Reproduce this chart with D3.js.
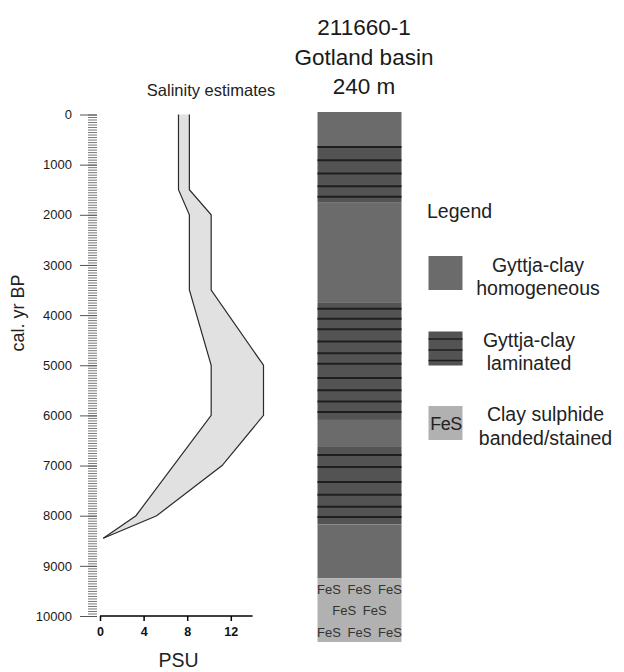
<!DOCTYPE html>
<html>
<head>
	<title></title>
	<style>
		body { margin: 0; background: #fff; }
		text { font-family: "Liberation Sans", Arial, sans-serif; }
	</style>
</head>
<body>

<svg id="chart" width="624" height="672"></svg>

<script src="https://d3js.org/d3.v7.min.js"></script>
<script>
	// Salinity band, min and max edge (age in cal. yr BP, value in PSU)
	const minAge = [0, 1500, 2000, 3500, 5000, 6000, 8000, 8450]
	const minPSU = [7.2, 7.2, 8.2, 8.2, 10.2, 10.2, 3.3, 0.3]
	const maxAge = [0, 1500, 2000, 3500, 5000, 6000, 7000, 8000, 8450]
	const maxPSU = [8.2, 8.2, 10.2, 10.2, 15, 15, 11.2, 5.2, 0.3]

	const xTicks = [0, 4, 8, 12]

	// Core units, top/bottom in % of core length
	const unitType = ['hom', 'lam', 'hom', 'lam', 'hom', 'lam', 'hom', 'fes']
	const unitTop = [0, 6.5, 17.0, 35.9, 58.1, 63.2, 77.8, 88.0]
	const unitBottom = [6.5, 17.0, 35.9, 58.1, 63.2, 77.8, 88.0, 100]

	// laminae positions in % of core length
	const laminae = [6.6, 9.1, 11.6, 14.0, 16.0,
		37.1, 39.0, 41.0, 43.3, 45.5, 47.5, 50.2, 52.5, 54.6, 56.6,
		64.7, 67.0, 69.8, 72.2, 74.5, 76.4]

	const fesRows = [['FeS', 'FeS', 'FeS'], ['FeS', 'FeS'], ['FeS', 'FeS', 'FeS']]

	const colors = { hom: '#6b6b6b', lam: '#535353', fes: '#b1b1b1' }

	const svg = d3.select('#chart')

	// ---------------- salinity panel ----------------
	const y = d3.scaleLinear().domain([0, 10000]).range([114.5, 616])
	const x = d3.scaleLinear().domain([0, 14]).range([100, 252.6])

	// minor ticks every 50 yrs
	svg.append('g')
		.attr('transform', 'translate(97,0)')
		.call(d3.axisLeft(y).tickValues(d3.range(0, 10001, 50)).tickSize(9).tickFormat(''))
		.call(g => g.select('.domain').remove())
		.call(g => g.selectAll('line').attr('stroke', '#777'))

	// major ticks
	svg.append('g')
		.attr('transform', 'translate(97,0)')
		.call(d3.axisLeft(y).tickValues(d3.range(0, 10001, 1000)).tickSize(17).tickPadding(8).tickFormat(d3.format('d')))
		.call(g => g.select('.domain').remove())
		.call(g => g.selectAll('line').attr('stroke', '#555'))
		.call(g => g.selectAll('text').attr('font-size', 13).attr('fill', '#1a1a1a')
			.style('font-family', '"Liberation Sans", Arial, sans-serif'))

	svg.append('g')
		.attr('transform', 'translate(0,616)')
		.call(d3.axisBottom(x).tickValues(xTicks).tickSize(5).tickSizeOuter(0).tickPadding(6))
		.call(g => g.select('.domain').attr('stroke-width', 1.5).attr('d', `M${x(0)},0H${x(14)}`))
		.call(g => g.selectAll('line').attr('stroke-width', 1.5))
		.call(g => g.selectAll('text').attr('font-size', 12.5).attr('font-weight', 'bold').attr('fill', '#111')
			.style('font-family', '"Liberation Sans", Arial, sans-serif'))

	const minPts = minAge.map((a, i) => [x(minPSU[i]), y(a)])
	const maxPts = maxAge.map((a, i) => [x(maxPSU[i]), y(a)])

	svg.append('path')
		.attr('d', d3.line()(minPts.concat(maxPts.slice().reverse())) + 'Z')
		.attr('fill', '#e1e1e1')

	const edge = d3.line()
	svg.selectAll('path.edge')
		.data([minPts, maxPts])
		.enter()
		.append('path')
		.attr('class', 'edge')
		.attr('d', d => edge(d))
		.attr('fill', 'none')
		.attr('stroke', '#2a2a2a')
		.attr('stroke-width', 1.2)

	svg.append('text')
		.attr('x', 211).attr('y', 96)
		.attr('text-anchor', 'middle')
		.attr('font-size', 16.5)
		.attr('fill', '#222')
		.text('Salinity estimates')

	svg.append('text')
		.attr('transform', 'translate(24,313) rotate(-90)')
		.attr('text-anchor', 'middle')
		.attr('font-size', 18)
		.attr('fill', '#222')
		.text('cal. yr BP')

	svg.append('text')
		.attr('x', 178.5).attr('y', 667)
		.attr('text-anchor', 'middle')
		.attr('font-size', 19.5)
		.attr('fill', '#222')
		.text('PSU')

	// ---------------- core column ----------------
	const cy = d3.scaleLinear().domain([0, 100]).range([112, 642])
	const cx = d3.scaleLinear().domain([0, 1]).range([317.5, 401.5])

	svg.selectAll('rect.unit')
		.data(unitType)
		.enter()
		.append('rect')
		.attr('class', 'unit')
		.attr('x', cx(0))
		.attr('width', cx(1) - cx(0))
		.attr('y', (d, i) => cy(unitTop[i]))
		.attr('height', (d, i) => cy(unitBottom[i]) - cy(unitTop[i]))
		.attr('fill', d => colors[d])

	svg.selectAll('line.lamina')
		.data(laminae)
		.enter()
		.append('line')
		.attr('class', 'lamina')
		.attr('x1', cx(0)).attr('x2', cx(1))
		.attr('y1', d => cy(d)).attr('y2', d => cy(d))
		.attr('stroke', '#1e1e1e')
		.attr('stroke-width', 2)

	const fesTop = cy(unitTop[7])
	fesRows.forEach((row, r) => {
		const step = 30.5
		const start = (cx(0) + cx(1)) / 2 - (row.length - 1) * step / 2
		svg.selectAll(null)
			.data(row)
			.enter()
			.append('text')
			.attr('x', (d, i) => start + i * step)
			.attr('y', fesTop + 15.5 + r * 21.3)
			.attr('text-anchor', 'middle')
			.attr('font-size', 13)
			.attr('fill', '#333')
			.text(d => d)
	})

	const titleLines = ['211660-1', 'Gotland basin', '240 m']
	svg.selectAll('text.title')
		.data(titleLines)
		.enter()
		.append('text')
		.attr('class', 'title')
		.attr('x', 364)
		.attr('y', (d, i) => 35 + i * 29.6)
		.attr('text-anchor', 'middle')
		.attr('font-size', 22.5)
		.attr('fill', '#1a1a1a')
		.text(d => d)

	// ---------------- legend ----------------
	svg.append('text')
		.attr('x', 427).attr('y', 218)
		.attr('font-size', 19.5)
		.attr('fill', '#222')
		.text('Legend')

	const legendKeys = ['hom', 'lam', 'fes']
	const legendLabels = [['Gyttja-clay', 'homogeneous'], ['Gyttja-clay', 'laminated'], ['Clay sulphide', 'banded/stained']]
	const legendY = [256, 331.5, 406]
	const legendTextX = [538, 529, 545.5]
	const legendTextDy = [[15.5, 39], [15.2, 38.5], [14.5, 38.5]]

	const lg = svg.selectAll('g.leg')
		.data(legendKeys)
		.enter()
		.append('g')
		.attr('class', 'leg')
		.attr('transform', (d, i) => `translate(428.5,${legendY[i]})`)

	lg.append('rect')
		.attr('width', 34).attr('height', 34)
		.attr('fill', d => colors[d])

	lg.filter(d => d === 'lam')
		.selectAll('line')
		.data([7.5, 18.5, 29])
		.enter()
		.append('line')
		.attr('x1', 0).attr('x2', 34)
		.attr('y1', d => d).attr('y2', d => d)
		.attr('stroke', '#1e1e1e')
		.attr('stroke-width', 1.5)

	lg.filter(d => d === 'fes')
		.append('text')
		.attr('x', 17.5).attr('y', 24)
		.attr('text-anchor', 'middle')
		.attr('font-size', 18)
		.attr('letter-spacing', -0.5)
		.attr('fill', '#222')
		.text('FeS')

	lg.each(function (d, i) {
		d3.select(this).selectAll('text.lbl')
			.data(legendLabels[i])
			.enter()
			.append('text')
			.attr('class', 'lbl')
			.attr('x', legendTextX[i] - 428.5)
			.attr('y', (t, j) => legendTextDy[i][j])
			.attr('text-anchor', 'middle')
			.attr('font-size', 19.5)
			.attr('fill', '#222')
			.text(t => t)
	})
</script>
</body>
</html>
